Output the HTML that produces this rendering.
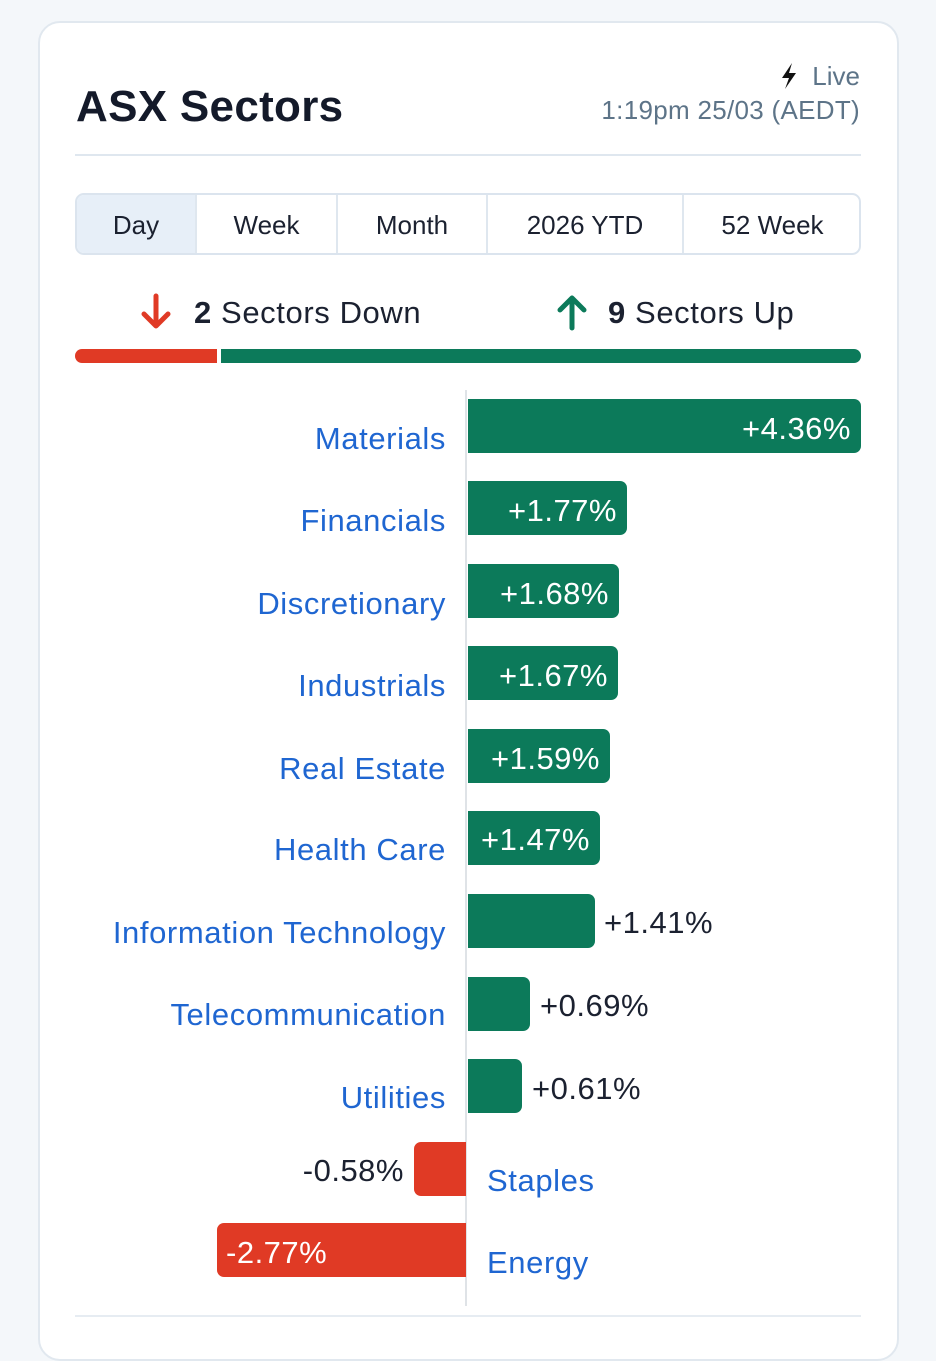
<!DOCTYPE html>
<html><head><meta charset="utf-8"><style>
*{margin:0;padding:0;box-sizing:border-box}
body{width:936px;height:1332px;background:#f4f7fa;font-family:"Liberation Sans",sans-serif;position:relative;overflow:hidden}
.card{position:absolute;left:38px;top:21px;width:861px;height:1340px;background:#fff;border:2px solid #e1e8ef;border-radius:22px}
.a{position:absolute;white-space:nowrap}
.lab{position:absolute;right:490px;font-size:31px;letter-spacing:0.6px;color:#1f66d1;line-height:36px}
.bar{position:absolute;height:54px;border-radius:0 7px 7px 0;background:#0c7a5a;left:468px}
.val{position:absolute;font-size:31px;letter-spacing:0.5px;line-height:36px;color:#fff}
.tab{position:absolute;top:0;height:60px;line-height:60px;text-align:center;font-size:26px;color:#1b2130;border-right:2px solid #dfe7ef}
</style></head><body>
<div class="card"></div>
<div class="a" style="left:76px;top:82px;font-size:44px;font-weight:bold;color:#141a2a;letter-spacing:0.3px">ASX Sectors</div>
<svg class="a" style="left:779px;top:62px" width="20" height="28" viewBox="0 0 20 28"><path d="M13 1L3 16H10L6 27L17 11H10Z" fill="#111"/></svg>
<div class="a" style="right:76px;top:61px;font-size:26px;color:#5d7488;">Live</div>
<div class="a" style="right:76px;top:95px;font-size:26px;color:#5d7488;letter-spacing:0.3px">1:19pm 25/03 (AEDT)</div>
<div class="a" style="left:75px;top:154px;width:786px;height:2px;background:#dfe7ef"></div>
<div class="a" style="left:75px;top:193px;width:786px;height:62px;border:2px solid #dbe4ee;border-radius:9px;overflow:hidden">
<div class="tab" style="left:0;width:120px;background:#e7eff8">Day</div>
<div class="tab" style="left:120px;width:141px">Week</div>
<div class="tab" style="left:261px;width:150px">Month</div>
<div class="tab" style="left:411px;width:196px">2026 YTD</div>
<div class="tab" style="left:607px;width:177px;border-right:none">52 Week</div>
</div>
<svg class="a" style="left:136px;top:292px" width="40" height="40" viewBox="0 0 40 40"><path d="M20 4V34M8 22L20 34L32 22" stroke="#e03a25" stroke-width="5" fill="none" stroke-linecap="round" stroke-linejoin="round"/></svg>
<div class="a" style="left:194px;top:295px;font-size:31px;letter-spacing:0.6px;color:#1b2130"><b>2</b> Sectors Down</div>
<svg class="a" style="left:552px;top:292px" width="40" height="40" viewBox="0 0 40 40"><path d="M20 36V6M8 18L20 6L32 18" stroke="#0c7a5a" stroke-width="5" fill="none" stroke-linecap="round" stroke-linejoin="round"/></svg>
<div class="a" style="left:608px;top:295px;font-size:31px;letter-spacing:0.6px;color:#1b2130"><b>9</b> Sectors Up</div>
<div class="a" style="left:75px;top:349px;width:142px;height:14px;background:#e03a25;border-radius:7px 0 0 7px"></div>
<div class="a" style="left:221px;top:349px;width:640px;height:14px;background:#0c7a5a;border-radius:0 7px 7px 0"></div>
<div class="a" style="left:465px;top:390px;width:2px;height:916px;background:#dfe3e7"></div>

<div class="lab" style="top:421px">Materials</div><div class="bar" style="top:399px;width:393px"></div><div class="val" style="right:85px;top:411px">+4.36%</div>
<div class="lab" style="top:503px">Financials</div><div class="bar" style="top:481px;width:159px"></div><div class="val" style="right:319px;top:493px">+1.77%</div>
<div class="lab" style="top:586px">Discretionary</div><div class="bar" style="top:564px;width:151px"></div><div class="val" style="right:327px;top:576px">+1.68%</div>
<div class="lab" style="top:668px">Industrials</div><div class="bar" style="top:646px;width:150px"></div><div class="val" style="right:328px;top:658px">+1.67%</div>
<div class="lab" style="top:751px">Real Estate</div><div class="bar" style="top:729px;width:142px"></div><div class="val" style="right:336px;top:741px">+1.59%</div>
<div class="lab" style="top:832px">Health Care</div><div class="bar" style="top:811px;width:132px"></div><div class="val" style="right:346px;top:822px">+1.47%</div>
<div class="lab" style="top:915px">Information Technology</div><div class="bar" style="top:894px;width:127px"></div><div class="val" style="left:604px;top:905px;color:#1b2130">+1.41%</div>
<div class="lab" style="top:997px">Telecommunication</div><div class="bar" style="top:977px;width:62px"></div><div class="val" style="left:540px;top:988px;color:#1b2130">+0.69%</div>
<div class="lab" style="top:1080px">Utilities</div><div class="bar" style="top:1059px;width:54px"></div><div class="val" style="left:532px;top:1071px;color:#1b2130">+0.61%</div>
<div class="a" style="left:414px;top:1142px;width:52px;height:54px;background:#e03a25;border-radius:7px 0 0 7px"></div><div class="val" style="right:532px;top:1153px;color:#1b2130">-0.58%</div><div class="a" style="left:487px;top:1163px;font-size:31px;letter-spacing:0.6px;color:#1f66d1;line-height:36px">Staples</div>
<div class="a" style="left:217px;top:1223px;width:249px;height:54px;background:#e03a25;border-radius:7px 0 0 7px"></div><div class="val" style="left:226px;top:1235px">-2.77%</div><div class="a" style="left:487px;top:1245px;font-size:31px;letter-spacing:0.6px;color:#1f66d1;line-height:36px">Energy</div>
<div class="a" style="left:75px;top:1315px;width:786px;height:2px;background:#e6ecf2"></div>
</body></html>
